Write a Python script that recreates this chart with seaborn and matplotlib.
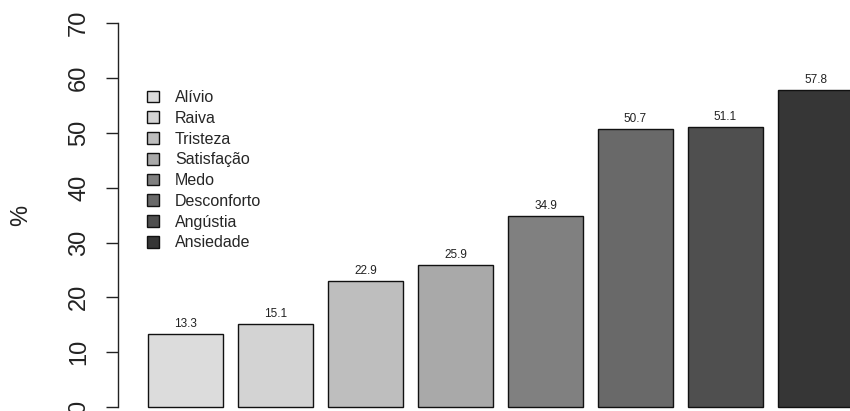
import matplotlib
matplotlib.use('Agg')
import matplotlib.pyplot as plt
import matplotlib.patches as mpatches
import seaborn as sns

# Datos del gráfico
emociones = ['Alívio', 'Raiva', 'Tristeza', 'Satisfação', 'Medo',
             'Desconforto', 'Angústia', 'Ansiedade']
porcentajes = [13.3, 15.1, 22.9, 25.9, 34.9, 50.7, 51.1, 57.8]
grises = ['#dcdcdc', '#d3d3d3', '#bebebe', '#a9a9a9', '#808080',
          '#696969', '#4f4f4f', '#363636']
ticks_y = [0, 10, 20, 30, 40, 50, 60, 70]

sns.set_style('white')
plt.rcParams['font.family'] = ['Liberation Sans', 'DejaVu Sans']

fig = plt.figure(figsize=(8.5, 4.11), dpi=100)
ax = fig.add_axes([118 / 850, -0.0276, 1 - 118 / 850, 1.0083])

sns.barplot(x=emociones, y=porcentajes, hue=emociones, palette=grises,
            width=0.8333, edgecolor='#111111', linewidth=1.0,
            legend=False, saturation=1, ax=ax)

ax.set_xlim(-0.75, 7.383)
ax.set_ylim(-2.8, 72.8)

# Etiquetas de valor encima de las barras
for cont in ax.containers:
    ax.bar_label(cont, fmt='%.1f', padding=3, fontsize=8.5, color='#222222')

# Eje y al estilo R
for lado in ['top', 'right', 'bottom']:
    ax.spines[lado].set_visible(False)
ax.spines['left'].set_bounds(0, 70)
ax.spines['left'].set_color('#222222')
ax.spines['left'].set_linewidth(1.0)
ax.set_yticks(ticks_y)
ax.set_yticklabels([str(t) for t in ticks_y], rotation=90, va='center',
                   fontsize=17, color='#222222')
ax.tick_params(axis='y', length=9, width=1.0, color='#222222', pad=11, left=True)
ax.set_xticks([])
ax.set_xlabel('')
ax.set_ylabel('%', fontsize=17, color='#222222', labelpad=26)

# Leyenda
parches = [mpatches.Patch(facecolor=c, edgecolor='#111111', linewidth=1.0)
           for c in grises]
ax.legend(parches, emociones, loc='upper left',
          bbox_to_anchor=(147 / 850, 1 - 90 / 411),
          bbox_transform=fig.transFigure, frameon=False, fontsize=11.5,
          handlelength=0.75, handleheight=0.75, handletextpad=1.0,
          labelspacing=0.36, borderpad=0, borderaxespad=0)

fig.savefig('out.png', dpi=100)
